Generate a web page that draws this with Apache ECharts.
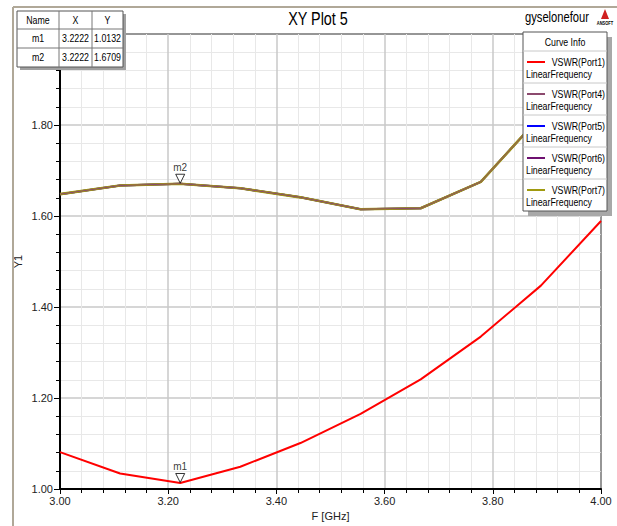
<!DOCTYPE html>
<html><head><meta charset="utf-8">
<script src="https://cdn.jsdelivr.net/npm/echarts@6/dist/echarts.min.js"></script>
<style>html,body{margin:0;padding:0;background:#fff}#c{width:617px;height:526px}</style>
</head><body><div id="c"></div>
<script>
// ---- data ----
var freq = [3.0, 3.1111, 3.2222, 3.3333, 3.4444, 3.5556, 3.6667, 3.7778, 3.8889, 4.0];
var vswrPort1 = [1.081, 1.034, 1.0132, 1.049, 1.101, 1.165, 1.241, 1.335, 1.447, 1.589];
var vswrPort4 = [1.648, 1.667, 1.6709, 1.661, 1.641, 1.615, 1.617, 1.675, 1.820, 1.980];
var vswrPort5 = vswrPort4.slice();
var vswrPort6 = vswrPort4.slice();
var vswrPort7 = vswrPort4.slice();
var seriesNames = ['VSWR(Port1)', 'VSWR(Port4)', 'VSWR(Port5)', 'VSWR(Port6)', 'VSWR(Port7)'];
var seriesColors = ['#ff0000', '#8c4a6e', '#0000ff', '#6e1070', '#a09a10'];
var markerNames = ['m1', 'm2'];
var markerX = [3.2222, 3.2222];
var markerY = [1.0132, 1.6709];
var xTicks = ['3.00', '3.20', '3.40', '3.60', '3.80', '4.00'];
var yTicks = ['1.00', '1.20', '1.40', '1.60', '1.80'];

var FONT = "'Liberation Sans Narrow','Arial Narrow','Liberation Sans',Arial,sans-serif";
var NX = 0.8;
var chart = echarts.init(document.getElementById('c'), null, {renderer: 'svg'});

function pairs(ys) { return freq.map(function (f, i) { return [f, ys[i]]; }); }
var allY = [vswrPort1, vswrPort4, vswrPort5, vswrPort6, vswrPort7];
var widths = [2, 1, 2, 2, 2.6];
var series = [];
[0, 2, 3, 4, 1].forEach(function (k) {
  series.push({
    name: seriesNames[k], type: 'line', data: pairs(allY[k]), symbol: 'none',
    lineStyle: {color: seriesColors[k], width: widths[k]}, z: 3, silent: true
  });
});
series.push({
  type: 'scatter', z: 5, silent: true,
  data: markerNames.map(function (n, i) { return {value: [markerX[i], markerY[i]], name: n}; }),
  symbol: 'triangle', symbolRotate: 180, symbolSize: [9, 9], symbolOffset: [0, -5],
  itemStyle: {color: '#fff', borderColor: '#000', borderWidth: 1},
  label: {show: true, position: 'top', distance: 1, formatter: '{b}', fontFamily: FONT, fontSize: 10, color: '#000'}
});

function txt(x, y, t, size, align, extra) {
  return {type: 'text', x: x, y: y, scaleX: NX, z: 23,
    style: {text: t, font: (extra || '') + size + 'px ' + FONT, fill: '#000', textAlign: align, textVerticalAlign: 'middle'}};
}

var g = [];
g.push({type: 'line', shape: {x1: 13, y1: 7, x2: 617, y2: 7}, style: {stroke: '#b0a898', lineWidth: 2}, z: 1});
g.push({type: 'line', shape: {x1: 13, y1: 7, x2: 13, y2: 526}, style: {stroke: '#b0a898', lineWidth: 2}, z: 1});
g.push(txt(318, 18, 'XY Plot 5', 18, 'center'));
g.push(txt(557, 18, 'gyselonefour', 14, 'center'));
g.push({type: 'polygon', shape: {points: [[605, 9], [601, 19], [609, 19]]}, style: {fill: '#d02020'}, z: 10});
g.push({type: 'text', x: 605, y: 23, scaleX: 0.8, style: {text: 'ANSOFT', font: 'bold 5px ' + FONT, fill: '#000', textAlign: 'center', textVerticalAlign: 'middle'}, z: 10});

// marker table
var tx = [17, 59, 92, 123], ty = [11, 29, 48, 67];
g.push({type: 'rect', shape: {x: tx[0] + 3, y: ty[0] + 3, width: tx[3] - tx[0], height: ty[3] - ty[0]}, style: {fill: '#a0a0a0'}, z: 20});
g.push({type: 'rect', shape: {x: tx[0], y: ty[0], width: tx[3] - tx[0], height: ty[3] - ty[0]}, style: {fill: '#fff', stroke: '#555', lineWidth: 1}, z: 21});
[1, 2].forEach(function (i) {
  g.push({type: 'line', shape: {x1: tx[i], y1: ty[0], x2: tx[i], y2: ty[3]}, style: {stroke: '#777', lineWidth: 1}, z: 22});
  g.push({type: 'line', shape: {x1: tx[0], y1: ty[i], x2: tx[3], y2: ty[i]}, style: {stroke: '#777', lineWidth: 1}, z: 22});
});
var rows = [['Name', 'X', 'Y']];
markerNames.forEach(function (n, i) { rows.push([n, markerX[i].toFixed(4), markerY[i].toFixed(4)]); });
rows.forEach(function (r, ri) {
  r.forEach(function (t, ci) {
    g.push(txt((tx[ci] + tx[ci + 1]) / 2, (ty[ri] + ty[ri + 1]) / 2, t, 11, 'center'));
  });
});

// legend box
var lx0 = 523, lx1 = 607, ly0 = 32, lh = 32, lhead = 19;
var ly1 = ly0 + lhead + lh * seriesNames.length;
g.push({type: 'rect', shape: {x: lx0 + 5, y: ly0 + 5, width: lx1 - lx0, height: ly1 - ly0}, style: {fill: '#a8a8a8'}, z: 20});
g.push({type: 'rect', shape: {x: lx0, y: ly0, width: lx1 - lx0, height: ly1 - ly0}, style: {fill: '#fff', stroke: '#555', lineWidth: 1}, z: 21});
g.push(txt((lx0 + lx1) / 2, ly0 + 10, 'Curve Info', 11, 'center'));
seriesNames.forEach(function (n, i) {
  var y = ly0 + lhead + lh * i;
  g.push({type: 'line', shape: {x1: lx0, y1: y, x2: lx1, y2: y}, style: {stroke: '#c8c8c8', lineWidth: 1}, z: 22});
  g.push({type: 'line', shape: {x1: lx0 + 4, y1: y + 11, x2: lx0 + 22, y2: y + 11}, style: {stroke: seriesColors[i], lineWidth: 2}, z: 23});
  g.push(txt(lx1 - 2, y + 11, n, 11, 'right'));
  g.push(txt(lx0 + 3, y + 23, 'LinearFrequency', 11, 'left'));
});

var axisLabelStyle = {fontFamily: FONT, fontSize: 11, color: '#222'};
chart.setOption({
  animation: false,
  backgroundColor: '#fff',
  grid: {left: 60, right: 16, top: 34, bottom: 35, show: true, borderColor: '#000', borderWidth: 2, backgroundColor: '#fff'},
  xAxis: {
    type: 'value', min: 3, max: 4, interval: 0.2,
    name: 'F [GHz]', nameLocation: 'middle', nameGap: 21, nameMoveOverlap: false, nameTextStyle: {fontFamily: FONT, fontSize: 11, color: '#222'},
    axisLine: {show: true, lineStyle: {color: '#000', width: 2}},
    axisTick: {show: true, inside: false, length: 5, lineStyle: {color: '#000'}},
    minorTick: {show: true, splitNumber: 5, length: 4, lineStyle: {color: '#000'}},
    splitLine: {show: true, lineStyle: {color: '#c8c8c8', width: 1.5}},
    minorSplitLine: {show: true, lineStyle: {color: '#e8e8e8', width: 1}},
    axisLabel: Object.assign({margin: 6, formatter: function (v) { var s = v.toFixed(2); return xTicks.indexOf(s) >= 0 ? s : ''; }}, axisLabelStyle)
  },
  yAxis: {
    type: 'value', min: 1, max: 2, interval: 0.2,
    name: 'Y1', nameLocation: 'middle', nameGap: 37, nameMoveOverlap: false, nameRotate: 90, nameTextStyle: {fontFamily: FONT, fontSize: 11, color: '#222'},
    axisLine: {show: true, lineStyle: {color: '#000', width: 2}},
    axisTick: {show: true, inside: false, length: 6, lineStyle: {color: '#000'}},
    minorTick: {show: true, splitNumber: 5, length: 4, lineStyle: {color: '#000'}},
    splitLine: {show: true, lineStyle: {color: '#c8c8c8', width: 1.5}},
    minorSplitLine: {show: true, lineStyle: {color: '#e8e8e8', width: 1}},
    axisLabel: Object.assign({margin: 7, formatter: function (v) { var s = v.toFixed(2); return yTicks.indexOf(s) >= 0 ? s : ''; }}, axisLabelStyle)
  },
  series: series,
  graphic: {elements: g}
});
</script></body></html>
